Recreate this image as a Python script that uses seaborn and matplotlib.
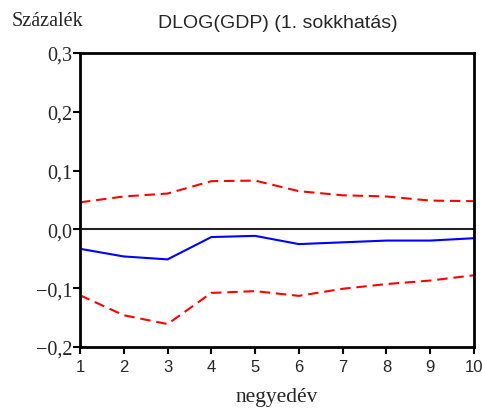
import matplotlib
matplotlib.use("Agg")
import matplotlib.pyplot as plt
import seaborn as sns
import pandas as pd

periods = [1, 2, 3, 4, 5, 6, 7, 8, 9, 10]
response = [-0.033, -0.046, -0.051, -0.013, -0.011, -0.025, -0.022, -0.019, -0.019, -0.015]
upper = [0.046, 0.056, 0.061, 0.082, 0.083, 0.065, 0.058, 0.056, 0.049, 0.048]
lower = [-0.112, -0.146, -0.161, -0.108, -0.105, -0.113, -0.101, -0.093, -0.087, -0.078]
yticks = [-0.2, -0.1, 0.0, 0.1, 0.2, 0.3]
ytick_labels = ["\u22120,2", "\u22120,1", "0,0", "0,1", "0,2", "0,3"]

sns.set_style("white")
plt.rcParams["font.family"] = ["Liberation Sans", "DejaVu Sans"]

fig = plt.figure(figsize=(4.82, 4.10), dpi=100)
ax = fig.add_axes([80/482, 62/410, 394/482, 294/410])

df = pd.DataFrame({"x": periods, "resp": response, "up": upper, "lo": lower})
sns.lineplot(data=df, x="x", y="up", ax=ax, color="#ff0000", lw=1.5, linestyle=(0, (5, 2.8)))
sns.lineplot(data=df, x="x", y="lo", ax=ax, color="#ff0000", lw=1.5, linestyle=(0, (5, 2.8)))
sns.lineplot(data=df, x="x", y="resp", ax=ax, color="#0000ff", lw=1.5)
ax.axhline(0, color="#222222", lw=1.5, zorder=1)

ax.set_xlim(1, 10)
ax.set_ylim(-0.2, 0.3)
ax.set_xticks(periods)
ax.set_xticklabels([str(p) for p in periods], fontsize=12)
ax.set_yticks(yticks)
ax.set_yticklabels(ytick_labels, family=["Liberation Serif"], fontsize=14.5)
ax.tick_params(axis="y", direction="out", length=5, width=1.5, color="black", pad=0.5, left=True)
ax.tick_params(axis="x", direction="out", length=5, width=1.5, color="black", pad=4, bottom=True)
for s in ax.spines.values():
    s.set_linewidth(2)
    s.set_color("black")
ax.set_xlabel("")
ax.set_ylabel("")

fig.text(278/482, 1 - 23/410, "DLOG(GDP) (1. sokkhatás)", ha="center", va="center", fontsize=14)
fig.text(12/482, 1 - 22/410, "Százalék", ha="left", va="center", family=["Liberation Serif"], fontsize=14.5)
fig.text(277/482, 1 - 402/410, "negyedév", ha="center", va="baseline", family=["Liberation Serif"], fontsize=15.5)

fig.savefig("out.png", dpi=100)
